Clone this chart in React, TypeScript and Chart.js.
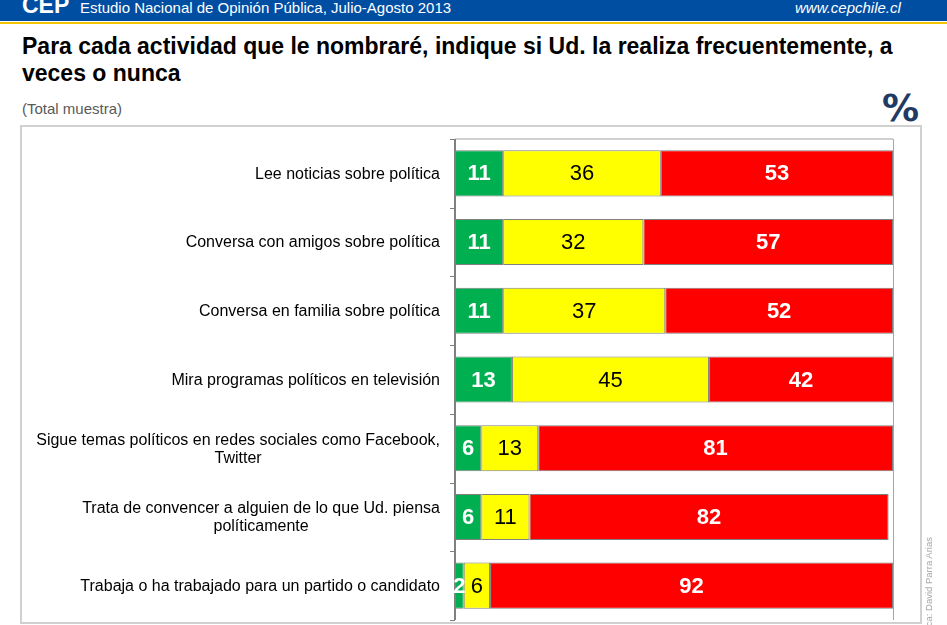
import React, { useEffect, useRef } from "react";
import { Chart, registerables } from "chart.js";

Chart.register(...registerables);

const categories: string[][] = [
  ["Lee noticias sobre política"],
  ["Conversa con amigos sobre política"],
  ["Conversa en familia sobre política"],
  ["Mira programas políticos en televisión"],
  ["Sigue temas políticos en redes sociales como Facebook,", "Twitter"],
  ["Trata de convencer a alguien de lo que Ud. piensa", "políticamente"],
  ["Trabaja o ha trabajado para un partido o candidato"],
];
const frecuentemente = [11, 11, 11, 13, 6, 6, 2];
const aVeces = [36, 32, 37, 45, 13, 11, 6];
const nunca = [53, 57, 52, 42, 81, 82, 92];
const seriesNames = ["Frecuentemente", "A veces", "Nunca"];

const FONT = "'Liberation Sans', Arial, sans-serif";

const framePlugin = {
  id: "frame",
  beforeDatasetsDraw(chart: any) {
    const { ctx, chartArea } = chart;
    const { left, right, top, bottom } = chartArea;
    ctx.save();
    ctx.strokeStyle = "#D0D0D0";
    ctx.lineWidth = 2;
    ctx.beginPath();
    ctx.moveTo(left, top);
    ctx.lineTo(right, top);
    ctx.stroke();
    ctx.strokeStyle = "#A6A6A6";
    ctx.lineWidth = 1;
    ctx.beginPath();
    ctx.moveTo(right + 0.5, top);
    ctx.lineTo(right + 0.5, bottom);
    ctx.stroke();
    ctx.restore();
  },
  afterDatasetsDraw(chart: any) {
    const { ctx, chartArea } = chart;
    const { left, top, bottom } = chartArea;
    const yScale = chart.scales.y;
    ctx.save();
    ctx.strokeStyle = "#808080";
    ctx.lineWidth = 2;
    ctx.beginPath();
    ctx.moveTo(left, top);
    ctx.lineTo(left, bottom);
    ctx.stroke();
    ctx.lineWidth = 1;
    const n = categories.length;
    const step = yScale.getPixelForValue(1) - yScale.getPixelForValue(0);
    for (let i = 0; i <= n; i++) {
      const y = i < n ? yScale.getPixelForValue(i) - step / 2 : bottom;
      ctx.beginPath();
      ctx.moveTo(left - 5, Math.round(y) + 0.5);
      ctx.lineTo(left, Math.round(y) + 0.5);
      ctx.stroke();
    }
    // category labels
    ctx.fillStyle = "#000";
    ctx.font = `16px ${FONT}`;
    ctx.textBaseline = "middle";
    ctx.textAlign = "center";
    const lh = 18;
    categories.forEach((lines, i) => {
      const yc = yScale.getPixelForValue(i) + 1;
      const maxW = Math.max(...lines.map((l) => ctx.measureText(l).width));
      const xc = left - 15 - maxW / 2;
      const y0 = yc - ((lines.length - 1) * lh) / 2;
      lines.forEach((l, j) => ctx.fillText(l, xc, y0 + j * lh));
    });
    // value labels
    chart.data.datasets.forEach((ds: any, di: number) => {
      const meta = chart.getDatasetMeta(di);
      meta.data.forEach((el: any, i: number) => {
        const v = ds.data[i];
        const xc = (el.x + el.base) / 2;
        if (di === 1) {
          ctx.fillStyle = "#000";
          ctx.font = `22px ${FONT}`;
        } else {
          ctx.fillStyle = "#FFFFFF";
          ctx.font = `bold 22px ${FONT}`;
        }
        ctx.fillText(String(v), xc, el.y + 1);
      });
    });
    ctx.restore();
  },
};

export default function App() {
  const ref = useRef<HTMLCanvasElement>(null);
  useEffect(() => {
    if (!ref.current) return;
    const common = {
      borderColor: "#808080",
      borderWidth: 1,
      borderSkipped: false,
      categoryPercentage: 1,
      barPercentage: 0.67,
    };
    const chart = new Chart(ref.current, {
      type: "bar",
      data: {
        labels: categories.map((c) => c.join(" ")),
        datasets: [
          { label: seriesNames[0], data: frecuentemente, backgroundColor: "#00B050", ...common },
          { label: seriesNames[1], data: aVeces, backgroundColor: "#FFFF00", ...common },
          { label: seriesNames[2], data: nunca, backgroundColor: "#FF0000", ...common },
        ],
      },
      options: {
        indexAxis: "y",
        animation: false,
        responsive: false,
        maintainAspectRatio: false,
        layout: { padding: { left: 455, right: 54, top: 139, bottom: 5 } },
        plugins: { legend: { display: false }, tooltip: { enabled: false } },
        scales: {
          x: { stacked: true, min: 0, max: 100, display: false },
          y: { stacked: true, display: false },
        },
      } as any,
      plugins: [framePlugin],
    });
    return () => chart.destroy();
  }, []);

  return (
    <div
      style={{
        position: "absolute",
        left: 0,
        top: 0,
        width: 947,
        height: 625,
        overflow: "hidden",
        background: "#fff",
        fontFamily: FONT,
      }}
    >
      <div style={{ position: "absolute", left: 0, top: 0, width: 947, height: 21, background: "#004EA2" }} />
      <div style={{ position: "absolute", left: 0, top: 22, width: 947, height: 2, background: "#F2C500" }} />
      <div
        style={{
          position: "absolute",
          left: 22,
          top: -6,
          fontSize: 23,
          lineHeight: "23px",
          fontWeight: "bold",
          color: "#fff",
          whiteSpace: "nowrap",
        }}
      >
        CEP
      </div>
      <div
        style={{
          position: "absolute",
          left: 80,
          top: 0,
          fontSize: 15,
          lineHeight: "15px",
          color: "#fff",
          whiteSpace: "nowrap",
        }}
      >
        Estudio Nacional de Opinión Pública, Julio-Agosto 2013
      </div>
      <div
        style={{
          position: "absolute",
          left: 795,
          top: 0,
          fontSize: 15,
          lineHeight: "15px",
          fontStyle: "italic",
          color: "#fff",
          whiteSpace: "nowrap",
        }}
      >
        www.cepchile.cl
      </div>
      <div
        style={{
          position: "absolute",
          left: 22,
          top: 33,
          fontSize: 23,
          lineHeight: "27px",
          fontWeight: "bold",
          color: "#000",
          whiteSpace: "nowrap",
        }}
      >
        Para cada actividad que le nombraré, indique si Ud. la realiza frecuentemente, a
        <br />
        veces o nunca
      </div>
      <div
        style={{
          position: "absolute",
          left: 22,
          top: 100,
          fontSize: 15,
          lineHeight: "17px",
          color: "#595959",
          whiteSpace: "nowrap",
        }}
      >
        (Total muestra)
      </div>
      <div
        style={{
          position: "absolute",
          right: 947 - 919,
          top: 89,
          fontSize: 37,
          lineHeight: "40px",
          fontWeight: "bold",
          color: "#1F3A64",
          fontFamily: "'DejaVu Sans', sans-serif",
        }}
      >
        %
      </div>
      <div
        style={{
          position: "absolute",
          left: 20,
          top: 125,
          width: 898,
          height: 495,
          border: "2px solid #D0D0D0",
        }}
      />
      <canvas ref={ref} width={947} height={625} style={{ position: "absolute", left: 0, top: 0 }} />
      <div
        style={{
          position: "absolute",
          left: 922,
          top: 737,
          width: 200,
          height: 13,
          transform: "rotate(-90deg)",
          transformOrigin: "left top",
          fontSize: 9.5,
          lineHeight: "13px",
          color: "#A6A6A6",
          textAlign: "right",
          whiteSpace: "nowrap",
        }}
      >
        Gráfica: David Parra Arias
      </div>
    </div>
  );
}
